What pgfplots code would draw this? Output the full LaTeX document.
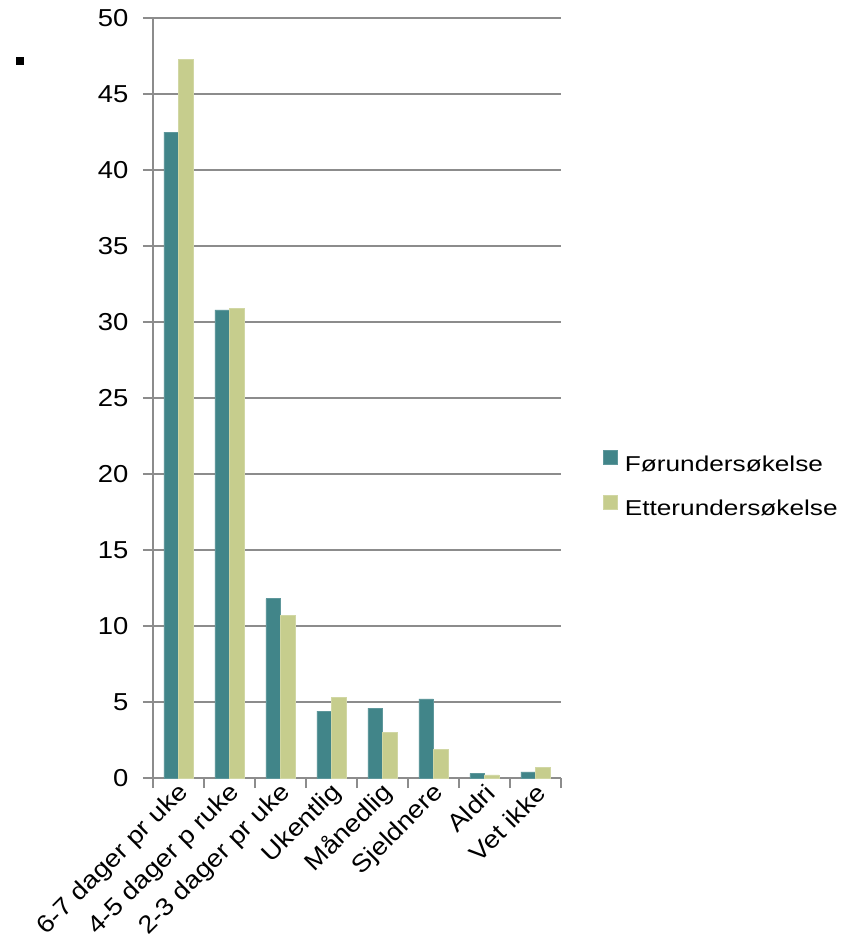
\documentclass[border=0pt]{standalone}
\usepackage{fontspec}
\setmainfont{Liberation Sans}
\newfontfamily\tickfont{Liberation Sans}[FakeStretch=1.12]
\newfontfamily\legfont{Liberation Sans}[FakeStretch=1.22]
\usepackage{graphicx}
\usepackage{pgfplots}
\pgfplotsset{compat=1.18}
\newcommand{\wl}[1]{\scalebox{1.12}[1]{#1}}
\definecolor{cfor}{HTML}{418589}
\definecolor{cetter}{HTML}{C6CD8D}
\definecolor{gridc}{HTML}{8C8C8C}
\begin{document}
\begin{tikzpicture}
\useasboundingbox (-153pt,-173pt) rectangle (702pt,778pt);
\fill[black] (-137pt,713pt) rectangle (-129pt,721pt);
\begin{axis}[
  at={(0,0)}, anchor=south west,
  scale only axis, width=408pt, height=760pt,
  ymin=0, ymax=50, ytick={0,5,...,50},
  xmin=-0.5, xmax=7.5,
  xtick={-0.5,0.5,...,7.5}, xticklabels={},
  extra x ticks={0,1,2,3,4,5,6,7},
  extra x tick labels={\wl{6-7 dager pr uke},\wl{4-5 dager p ruke},\wl{2-3 dager pr uke},\wl{Ukentlig},\wl{Månedlig},\wl{Sjeldnere},\wl{Aldri},\wl{Vet ikke}},
  extra x tick style={major tick length=0pt, grid=none},
  x tick label style={rotate=45, anchor=east, font=\fontsize{24.5}{28}\selectfont, yshift=-12pt},
  y tick label style={font=\tickfont\fontsize{24.5}{28}\selectfont, xshift=-11pt},
  /pgf/number format/assume math mode=true,
  tick align=outside, major tick length=10pt,
  axis x line*=bottom, axis y line*=left,
  axis line style={gridc, line width=1.5pt, -},
  tick style={gridc, line width=1.5pt},
  ymajorgrids, grid style={gridc, line width=1.5pt},
  ybar=0pt, bar width=14.5pt,
  legend style={at={(1,0.386)}, anchor=west, xshift=39pt, draw=none, fill=none,
    font=\legfont\fontsize{21.5}{25}\selectfont, row sep=20pt},
  legend cell align=left,
  legend image code/.code={\fill[#1] (0pt,0pt) rectangle (14pt,14pt); \path (19pt,7pt);},
]
\addplot[fill=cfor, draw=cfor!85!white, line width=0.6pt] coordinates {(0,42.5) (1,30.8) (2,11.8) (3,4.4) (4,4.6) (5,5.2) (6,0.3) (7,0.4)};
\addplot[fill=cetter, draw=cetter!80!white, line width=0.6pt] coordinates {(0,47.3) (1,30.9) (2,10.7) (3,5.3) (4,3.0) (5,1.9) (6,0.2) (7,0.7)};
\legend{Førundersøkelse,Etterundersøkelse}
\end{axis}
\end{tikzpicture}
\end{document}
